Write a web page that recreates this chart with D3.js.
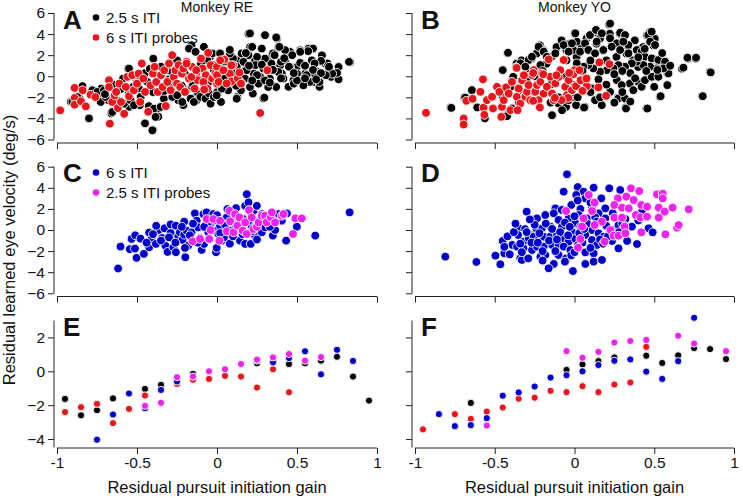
<!DOCTYPE html>
<html><head><meta charset="utf-8">
<script src="https://cdn.jsdelivr.net/npm/d3@7"></script>
<style>body{margin:0;background:#fff}svg{display:block}text{font-family:"Liberation Sans",Arial,Helvetica,sans-serif;fill:#111}</style>
</head><body><svg id="c" width="743" height="498"></svg>
<script>
// ---------- labels / ticks ----------
const xTicks=[-1,-0.5,0,0.5,1];
const xTickLabels=["-1","-0.5","0","0.5","1"];
const yTicksScatter=[-6,-4,-2,0,2,4,6];
const yTicksBins=[-4,-2,0,2];
const panelLetters=["A","B","C","D","E","F"];
const monkeyTitles=["Monkey RE","Monkey YO"];
const legendAB=["2.5 s ITI","6 s ITI probes"];
const legendCD=["6 s ITI","2.5 s ITI probes"];
const xTitle="Residual pursuit initiation gain";
const yTitle="Residual learned eye velocity (deg/s)";

// ---------- Panel A (Monkey RE, 2.5 s ITI + 6 s probes) ----------
const aBlack=[[-0.914,-2.43],[-0.858,-2.11],[-0.841,-0.94],[-0.80,-4.0],[-0.783,-1.48],[-0.754,-1.95],[-0.722,-1.17],[-0.708,-1.95],[-0.68,-2.27],[-0.66,-3.53],[-0.639,-1.17],[-0.624,-2.43],[-0.587,-0.22],[-0.555,0.72],[-0.549,-2.9],[-0.524,-1.0],[-0.503,-0.38],[-0.482,-2.74],[-0.45,-4.47],[-0.426,-2.83],[-0.398,1.67],[-0.398,-5.1],[-0.367,-3.84],[-0.367,-3.05],[-0.305,0.57],[-0.273,-0.38],[-0.242,-2.27],[-0.21,-2.74],[-0.19,-1.32],[-0.159,2.93],[-0.148,-2.11],[-0.127,-2.27],[-0.106,-0.38],[-0.081,2.77],[-0.075,-1.8],[-0.044,1.83],[-0.023,1.04],[0.019,-1.32],[0.023,-2.43],[0.061,-1.0],[0.082,2.14],[0.103,0.88],[0.124,1.51],[0.128,-1.95],[0.176,0.57],[0.197,4.03],[0.207,2.77],[0.224,-1.64],[0.238,1.51],[0.259,-0.69],[0.29,-2.11],[0.301,3.87],[0.311,1.67],[0.328,0.57],[0.374,3.56],[0.384,2.77],[0.395,1.04],[0.405,0.25],[0.426,1.51],[0.447,-1.0],[0.458,2.3],[0.478,-0.38],[0.499,0.88],[0.52,2.46],[0.53,1.2],[0.551,0.25],[0.572,2.61],[0.593,1.51],[0.604,-0.54],[0.625,0.41],[0.641,-1.0],[0.656,1.98],[0.677,1.2],[0.698,0.57],[0.714,-0.06],[0.75,0.1],[0.76,0.88],[0.833,1.35],
[-0.904,-2.44],[-0.873,-1.97],[-0.779,-1.33],[-0.748,-1.49],[-0.727,-2.44],[-0.706,-1.33],[-0.696,-1.96],[-0.654,-3.39],[-0.623,-2.28],[-0.581,-2.6],[-0.55,0.73],[-0.54,-2.28],[-0.519,-2.75],[-0.488,-1.17],[-0.477,-1.96],[-0.436,-0.53],[-0.404,-5.13],[-0.394,-3.07],[-0.384,-3.86],[-0.352,-2.91],[-0.332,-2.12],[-0.30,-1.01],[-0.279,-1.96],[-0.248,-1.8],[-0.217,-2.44],[-0.207,-1.33],[-0.175,2.63],[-0.165,-2.12],[-0.155,-1.01],[-0.144,-2.44],[-0.134,2.32],[-0.123,-1.49],[-0.103,-1.96],[-0.082,2.79],[-0.071,-2.12],[-0.061,1.53],[-0.05,-1.64],[-0.04,-2.6],[-0.03,2.16],[-0.019,-1.96],[0.002,-1.49],
[0.206,4.06],[0.30,3.9],[0.37,3.68],[0.025,-2.44],[0.123,-2.13],[0.296,-2.03],[0.825,1.37],[0.76,-0.29],[0.75,0.32],[0.72,0.25],[0.68,0.1],[0.69,1.21],[0.65,1.46],[0.61,1.21],[0.60,2.63],[0.57,2.38],[0.64,-0.54],[0.61,0.25],[0.58,-0.54],[0.54,-0.86],[0.56,0.1],[0.52,1.27],[0.52,2.32],[0.50,0.25],[0.48,-0.70],[0.47,2.0],[0.457,0.89],[0.425,2.48],[0.415,-0.22],[0.40,1.37],[0.39,2.79],[0.383,0.41],[0.37,-1.02],[0.35,2.16],[0.34,1.21],[0.33,-0.22],[0.32,-1.02],[0.30,1.68],[0.29,0.73],[0.28,2.63],[0.27,-0.06],[0.26,-0.70],[0.25,1.84],[0.24,1.05],[0.23,0.25],[0.22,2.79],[0.206,-1.02],[0.196,2.0],[0.185,0.57],[0.175,-0.22],[0.165,1.37],[0.154,2.16],[0.15,-1.33],[0.123,0.89],[0.113,-0.86],[0.10,1.68],[0.08,2.16],[0.07,-1.33],[0.06,-0.22],[0.04,1.21],[0.03,-1.17],[0.019,2.16],[0.008,0.25],[-0.002,-1.81],
[-0.6,-1.2],[-0.5,-0.6],[-0.45,0.3],[-0.4,-1.5],[-0.35,0.9],[-0.3,-0.3],[-0.25,1.5],[-0.2,0.2],[-0.15,-0.8],[-0.1,1.2],[-0.05,-0.5],[-0.7,-1.7],[-0.65,-0.8],[-0.55,-1.6],[-0.48,-0.1],[-0.42,0.7],[-0.33,-1.4],[-0.28,0.4],[-0.22,-0.9],[-0.12,0.5],[-0.08,-1.2],[-0.02,0.6],[0.05,-0.2],[0.1,0.3],[0.15,-0.6],[0.2,1.0],[0.25,0.1],[0.3,-0.4],[0.35,0.6],[0.4,-0.2],[0.45,0.9],[0.5,-0.4],[0.55,1.0],[0.6,0.6],[0.65,0.3],[0.05,1.4],[0.12,-0.9],[0.22,-0.4],[0.28,1.1],[0.33,-0.6],[0.42,1.7],[0.48,0.3],[0.55,-0.2],[0.62,-0.3],[0.7,0.9],[0.18,2.2],[0.36,2.0],[0.08,2.5]];
const aRed=[[-0.98,-3.24],[-0.89,-1.11],[-0.89,-2.06],[-0.89,-2.70],[-0.85,-2.38],[-0.84,-1.33],[-0.82,-2.86],[-0.79,-1.75],[-0.76,-1.97],[-0.675,-0.38],[-0.675,-1.02],[-0.67,-4.5],[-0.655,-2.44],[-0.64,-1.81],[-0.63,-1.49],[-0.62,-3.02],[-0.61,-0.70],[-0.60,-2.44],[-0.58,-3.56],[-0.57,-1.02],[-0.56,-0.06],[-0.55,-1.90],[-0.53,0.10],[-0.52,-1.33],[-0.50,-0.70],[-0.49,0.25],[-0.48,-2.44],[-0.47,1.21],[-0.46,-0.22],[-0.45,-1.49],[-0.43,-3.37],[-0.32,-2.83],[-0.415,-0.86],[-0.40,0.25],[-0.39,0.89],[-0.38,-0.54],[-0.37,-1.49],[-0.35,0.10],[-0.34,-1.02],[-0.33,0.57],[-0.31,-0.54],[-0.30,1.21],[-0.29,-1.33],[-0.28,2.0],[-0.27,-0.06],[-0.26,0.57],[-0.25,-0.70],[-0.24,1.05],[-0.23,-1.02],[-0.22,0.25],[-0.21,0.73],[-0.20,-1.49],[-0.19,1.37],[-0.175,-0.22],[-0.155,0.89],[-0.14,-1.17],[-0.13,0.25],[-0.12,-0.38],[-0.10,1.68],[-0.09,0.73],[-0.08,-0.86],[-0.07,0.10],[-0.06,-1.17],[-0.055,2.22],[-0.04,1.05],[-0.03,-0.22],[-0.01,0.25],[0.0,-0.70],[0.0,0.89],[0.0,0.1],[0.01,-0.54],[0.045,1.59],[0.056,0.57],[0.08,0.25],[0.09,-0.48],[0.10,1.05],[0.13,-0.22],[0.14,0.35],[0.15,-0.70],[0.315,0.57],[0.27,-3.49],[-0.19,1.2],[-0.16,-0.06],[-0.13,0.57],[-0.085,-0.54],[-0.08,-1.26],[0.02,1.51],[0.04,0.57],[0.06,-0.69],[0.09,1.04]];

// ---------- Panel B (Monkey YO) ----------
const bBlack=[[-0.777,-2.96],[-0.691,-2.02],[-0.645,-1.33],[-0.61,-2.96],[-0.562,-4.0],[-0.451,-1.17],[-0.426,-3.69],[-0.42,2.2],[-0.384,-0.06],[-0.363,1.2],[-0.332,1.51],[-0.30,0.72],[-0.269,1.67],[-0.238,2.14],[-0.217,2.93],[-0.196,2.46],[-0.175,1.2],[-0.144,1.83],[-0.138,-3.69],[-0.113,2.77],[-0.081,3.4],[-0.05,2.46],[-0.029,3.09],[0.002,4.03],[0.013,1.83],[0.044,2.77],[0.065,-2.9],[0.075,3.56],[0.096,3.87],[0.127,4.19],[0.138,3.09],[0.159,3.56],[0.18,2.46],[0.217,4.91],[0.221,4.03],[0.242,3.09],[0.263,1.83],[0.273,-2.02],[0.284,4.03],[0.294,2.77],[0.315,3.87],[0.322,-2.96],[0.326,2.14],[0.336,2.93],[0.347,-0.69],[0.367,1.51],[0.378,3.4],[0.399,0.88],[0.409,2.14],[0.43,2.77],[0.451,-3.06],[0.455,3.87],[0.472,4.19],[0.482,0.88],[0.493,2.93],[0.503,3.56],[0.514,0.25],[0.535,-1.95],[0.555,1.42],[0.583,0.25],[0.583,-0.85],[0.674,0.72],[0.712,1.67],[0.76,1.67],[0.80,-1.89],[0.848,0.41],
[0.223,5.0],[0.003,4.07],[0.097,3.91],[0.135,4.39],[0.171,4.07],[0.286,4.13],[0.317,3.91],[0.338,2.96],[0.014,3.28],[0.066,3.12],[0.139,3.28],[0.223,3.6],[0.265,3.12],[0.306,3.28],[-0.007,2.49],[0.035,2.33],[0.087,2.49],[0.129,2.17],[0.181,2.49],[0.233,2.8],[0.286,2.49],[0.338,2.17],[0.39,2.49],[0.421,2.33],[0.463,3.91],[0.484,4.23],[0.474,3.28],[0.505,2.96],[0.442,1.85],[0.484,1.69],[0.526,1.54],[0.568,1.38],[0.589,0.27],[0.557,0.74],[0.515,0.74],[0.474,0.9],[0.432,1.06],[0.39,1.38],[0.359,1.22],[0.317,0.9],[0.275,1.06],[0.244,0.74],[0.202,0.58],[0.16,0.43],[0.118,0.74],[0.087,1.06],[0.056,0.9],[0.014,1.22],[-0.007,-0.84],[0.077,-0.21],[0.108,-1.16],[0.129,-2.27],[0.171,-2.74],[0.223,-1.48],[0.265,-0.37],[0.296,-0.84],[0.275,-2.11],[0.317,-2.11],[0.323,-3.06],[0.369,-1.32],[0.40,-0.53],[0.421,-1.0],[0.442,-0.37],[0.484,-0.05],[0.526,-0.05],[0.457,-3.06],[0.54,-1.89],[0.582,-0.84],[0.683,0.81],[0.708,1.76],[0.762,1.76],[0.804,-1.89],[0.854,0.36],[0.01,-2.74],[0.06,-2.97],
[-0.772,-3.0],[-0.685,-2.02],[-0.643,-1.32],[-0.45,0.58],[-0.417,2.23],[-0.423,-3.79],[-0.34,1.22],[-0.35,-1.32],[-0.288,1.54],[-0.225,2.8],[-0.193,2.33],[-0.141,-3.7],[-0.214,1.06],[-0.173,1.85],[-0.12,2.17],[-0.068,2.96],[-0.037,2.33],[0.005,4.07],[-0.016,3.12],[-0.053,-2.9],[-0.037,-2.27],[-0.1,-2.59],[-0.267,1.85],[-0.308,0.9],[-0.392,-3.06],[-0.078,-3.22],[-0.016,-1.95],
[-0.45,-2.0],[-0.4,-1.0],[-0.35,-2.5],[-0.3,-0.5],[-0.25,-1.5],[-0.2,0.5],[-0.15,-0.8],[-0.1,-2.0],[-0.05,0.0],[0.0,-1.0],[0.05,0.5],[0.1,-1.5],[0.15,-0.3],[0.2,-0.8],[0.25,0.2],[0.3,-1.5],[0.35,0.3],[0.4,1.8],[0.45,0.5],[0.5,-1.0],[0.55,2.2],[-0.25,0.0],[-0.05,1.5],[0.1,1.5],[0.2,1.5],[0.3,0.5],[0.38,-0.2],[0.44,2.6],[0.52,0.6],[0.6,1.0],[-0.15,-2.5],[0.02,-2.0],[0.16,-2.0],[0.25,-2.5],[0.35,-2.4]];
const bRed=[[-0.931,-3.47],[-0.695,-4.01],[-0.695,-4.58],[-0.678,-2.33],[-0.639,-2.14],[-0.59,-1.48],[-0.574,-0.3],[-0.57,-2.97],[-0.565,-3.66],[-0.549,-2.27],[-0.517,-1.95],[-0.511,-3.06],[-0.486,-1.0],[-0.471,-1.48],[-0.459,-3.85],[-0.455,-2.9],[-0.444,-2.27],[-0.428,-1.06],[-0.413,-1.64],[-0.402,-3.22],[-0.392,-0.53],[-0.367,0.84],[-0.361,-1.95],[-0.35,-1.16],[-0.34,-2.59],[-0.329,-0.37],[-0.319,0.11],[-0.308,-1.95],[-0.298,-1.48],[-0.288,-0.84],[-0.277,-2.27],[-0.267,0.11],[-0.256,0.58],[-0.246,-1.48],[-0.235,-0.84],[-0.225,-2.27],[-0.214,-0.53],[-0.204,0.27],[-0.193,-1.64],[-0.173,-1.0],[-0.162,1.6],[-0.152,-0.05],[-0.141,-1.64],[-0.131,-2.27],[-0.12,-0.68],[-0.099,-0.05],[-0.089,0.58],[-0.068,1.54],[-0.058,-1.0],[-0.047,-1.79],[-0.037,-0.37],[-0.016,-1.32],[0.001,0.58],
[-0.007,0.2],[0.01,-0.94],[0.031,0.58],[0.045,-0.43],[0.066,-0.21],[0.056,-1.32],[0.077,-0.94],[0.156,1.31],[0.219,1.15],[0.15,-1.06],[0.198,-1.86],
[-0.363,0.79],[-0.317,0.09],[-0.259,0.31],[-0.196,0.19],[-0.113,0.09],[-0.033,0.31],[0.038,-0.38],[0.075,-0.22],[0.05,-1.39],[-0.04,-2.05],[-0.081,-2.27],[-0.123,-2.05],[-0.217,-2.96],[-0.259,-2.33],[-0.357,-3.22]];

// ---------- Panel C (Monkey RE, 6 s ITI + 2.5 s probes) ----------
const cBlue=[[-0.618,-3.65],[-0.603,-1.57],[-0.545,-1.82],[-0.534,-0.85],[-0.513,-1.76],[-0.511,-0.50],[-0.503,-2.64],[-0.478,-0.82],[-0.457,-2.26],[-0.424,-1.64],[-0.424,-0.25],[-0.409,-0.85],[-0.382,-1.32],[-0.365,0.0],[-0.344,-0.76],[-0.328,0.16],[-0.323,-1.48],[-0.309,-2.08],[-0.29,-0.28],[-0.29,0.53],[-0.273,-1.64],[-0.257,-2.11],[-0.257,0.41],[-0.242,-0.63],[-0.232,-0.22],[-0.215,-0.94],[-0.205,0.79],[-0.205,-0.44],[-0.198,-2.58],[-0.19,-0.06],[-0.18,-1.48],[-0.159,-0.22],[-0.138,1.57],[-0.127,0.88],[-0.117,0.25],[-0.106,-0.76],[-0.096,-1.89],[-0.085,1.51],[-0.081,-1.32],[-0.065,1.67],[-0.054,-0.22],[-0.04,0.63],[-0.023,1.51],[-0.012,-0.06],[-0.006,-2.11],[-0.002,-1.70],[0.009,-0.38],[0.019,0.41],[0.03,-1.01],[0.044,-0.69],[0.061,1.19],[0.065,1.98],[0.082,-0.06],[0.103,0.72],[0.119,2.07],[0.134,1.19],[0.144,-1.01],[0.155,0.25],[0.165,1.04],[0.176,-1.32],[0.176,2.29],[0.186,3.39],[0.197,2.61],[0.211,-1.32],[0.217,0.25],[0.228,1.82],[0.238,-0.53],[0.249,2.29],[0.265,0.88],[0.28,-0.22],[0.301,0.25],[0.311,1.04],[0.322,0.72],[0.349,-0.53],[0.363,0.0],[0.384,1.51],[0.405,0.88],[0.432,-1.01],[0.437,1.57],[0.499,0.31],[0.614,-0.53],[0.829,1.67],
[-0.4,-0.4],[-0.35,-1.0],[-0.3,-0.7],[-0.26,-1.2],[-0.22,0.3],[-0.17,-0.5],[-0.15,0.6],[-0.12,-1.2],[-0.08,0.3],[-0.05,-0.9],[-0.02,0.9],[0.02,-0.3],[0.05,0.5],[0.08,-1.3],[0.12,0.3],[0.16,-0.4],[0.2,0.9],[0.25,-0.9],[0.28,1.5],[0.33,0.3],[-0.44,-1.2],[-0.38,0.4],[-0.2,-1.7],[0.0,1.4],[0.1,-0.6],[0.22,-0.1]];
const cMagenta=[[-0.152,-1.07],[-0.106,-0.85],[-0.065,1.04],[-0.048,-0.85],[-0.023,1.04],[-0.04,0.0],[0.019,0.88],[0.015,-1.01],[0.061,-0.13],[0.078,1.82],[0.082,0.82],[0.103,-0.22],[0.113,1.51],[0.128,0.41],[0.14,1.19],[0.161,-0.06],[0.176,0.72],[0.186,-0.38],[0.2,1.89],[0.217,1.19],[0.228,0.09],[0.249,0.31],[0.26,0.72],[0.28,1.35],[0.301,1.35],[0.311,0.72],[0.336,1.19],[0.343,1.67],[0.363,0.72],[0.405,1.35],[0.416,1.51],[0.475,-0.38],[0.49,1.1],[0.53,1.1]];

// ---------- Panel D (Monkey YO, 6 s ITI + 2.5 s probes) ----------
const dBlue=[[-0.047,5.28],[-0.068,3.63],[0.02,4.07],[0.057,3.63],[0.12,4.01],[0.218,3.95],[0.287,3.79],[0.011,3.32],[0.068,3.0],[0.168,3.0],[-0.30,1.74],[-0.12,2.05],[-0.02,2.37],[0.037,1.99],[0.11,2.21],[0.193,2.05],[0.423,1.74],[-0.235,1.1],[-0.183,1.42],[-0.13,1.58],[-0.10,0.95],[-0.037,1.1],[0.005,0.63],[0.026,1.42],[0.078,1.1],[0.151,1.58],[0.193,1.1],[0.36,0.32],[0.319,1.04],[-0.35,0.16],[-0.31,0.09],[-0.277,-0.47],[-0.24,0.16],[-0.204,0.16],[-0.151,0.32],[-0.078,0.32],[-0.016,-0.16],[0.037,0.32],[0.11,0.0],[0.235,0.0],[0.276,0.47],[0.465,0.16],[0.49,-0.22],[-0.45,-1.04],[-0.39,-1.42],[-0.354,-0.47],[-0.32,-1.1],[-0.287,-0.79],[-0.256,-0.63],[-0.225,-0.95],[-0.193,-0.63],[-0.151,-0.63],[-0.11,-0.47],[-0.068,-0.79],[-0.037,-1.1],[0.005,-0.85],[0.068,-0.47],[0.11,-0.95],[0.151,-0.32],[0.183,-0.63],[0.235,-1.04],[0.33,-1.04],[0.392,-1.33],[-0.496,-2.43],[-0.44,-2.21],[-0.406,-2.31],[-0.36,-1.58],[-0.32,-1.74],[-0.266,-1.9],[-0.235,-1.58],[-0.193,-1.58],[-0.14,-1.42],[-0.10,-1.42],[-0.068,-1.58],[-0.026,-1.9],[0.022,-1.42],[0.068,-2.12],[0.12,-2.21],[0.141,-1.42],[0.276,-1.74],[-0.81,-2.53],[-0.615,-3.03],[-0.465,-3.25],[-0.34,-2.69],[-0.33,-2.84],[-0.29,-2.69],[-0.214,-2.53],[-0.183,-2.37],[-0.13,-3.22],[-0.10,-2.37],[-0.053,-2.69],[0.068,-3.22],[0.12,-3.0],[0.172,-2.84],[-0.162,-3.63],[-0.01,-3.89],
[-0.42,-0.6],[-0.38,-0.2],[-0.34,-1.3],[-0.3,-0.2],[-0.27,-1.2],[-0.25,0.5],[-0.22,-0.3],[-0.2,-2.0],[-0.18,0.6],[-0.16,-1.0],[-0.14,0.1],[-0.12,-2.0],[-0.09,-0.2],[-0.06,0.7],[-0.04,-0.5],[-0.02,-2.4],[0.0,1.3],[0.03,-0.3],[0.05,-1.2],[0.08,0.6],[0.1,-1.7],[0.13,1.2],[0.16,-0.9],[0.2,0.4],[0.25,-0.5],[0.3,0.6],[-0.37,0.6],[-0.44,-1.6],[-0.28,1.0],[-0.08,1.9],[0.02,2.8],[0.1,2.6],[-0.2,-2.9],[-0.06,-3.0],[0.0,-2.1],[0.18,-1.3],[0.24,1.6],[0.4,0.9],[-0.33,-2.1],[-0.23,-1.2],[-0.11,-0.9],[-0.03,0.3],[0.06,0.1],[0.14,0.8],[0.21,-0.6],[0.28,-0.2]];
const dMagenta=[[0.354,3.95],[0.406,3.69],[0.517,3.38],[0.553,3.44],[0.089,3.32],[0.126,2.59],[0.272,3.0],[0.325,3.16],[0.371,2.84],[0.553,3.0],[-0.053,1.8],[0.11,1.8],[0.25,2.37],[0.298,2.12],[0.34,2.05],[0.419,2.37],[0.455,2.21],[0.528,2.12],[0.615,2.12],[0.716,1.96],[0.565,1.74],[0.057,1.1],[0.172,0.79],[0.25,1.17],[0.298,1.17],[0.385,1.42],[0.413,1.2],[0.455,1.26],[0.528,1.17],[0.047,0.32],[0.126,0.47],[0.225,0.0],[0.314,0.32],[0.419,-0.22],[0.57,-0.41],[0.643,0.22],[0.653,0.47],[0.037,-0.85],[0.189,-1.1],[0.245,-0.54],[0.276,-0.54],[0.319,-0.32],[0.022,-1.67]];

// ---------- Panel E (Monkey RE binned means) ----------
const eBlack=[[-0.95,-1.63],[-0.85,-2.6],[-0.75,-2.3],[-0.65,-1.6],[-0.45,-1.04],[-0.35,-0.8],[-0.25,-0.6],[-0.15,-0.15],[0.25,0.47],[0.35,0.55],[0.45,0.43],[0.55,0.47],[0.65,0.63],[0.75,0.86],[0.85,-0.31],[0.95,-1.73]];
const eRed=[[-0.95,-2.41],[-0.85,-2.12],[-0.75,-1.92],[-0.65,-3.06],[-0.55,-2.22],[-0.45,-1.43],[-0.25,-0.75],[-0.15,-0.5],[-0.05,-0.45],[0.05,-0.27],[0.15,-0.31],[0.25,-0.96],[0.35,0.12],[0.45,-1.24]];
const eBlue=[[-0.75,-4.04],[-0.65,-2.55],[-0.55,-1.31],[-0.45,-2.18],[-0.35,-1.1],[-0.25,-0.6],[0.25,0.63],[0.35,0.53],[0.45,0.78],[0.55,1.18],[0.65,-0.18],[0.75,1.27],[0.85,0.61]];
const eMagenta=[[-0.45,-2.04],[-0.35,-1.86],[-0.25,-0.35],[-0.15,-0.31],[-0.05,0.0],[0.05,0.12],[0.15,0.43],[0.25,0.69],[0.35,0.82],[0.45,1.02],[0.55,0.63],[0.65,0.84]];

// ---------- Panel F (Monkey YO binned means) ----------
const fBlack=[[-0.65,-1.87],[-0.05,0.08],[0.05,0.41],[0.15,0.6],[0.25,0.82],[0.45,0.92],[0.55,0.49],[0.65,0.94],[0.75,1.37],[0.85,1.31],[0.95,0.72]];
const fRed=[[-0.95,-3.43],[-0.75,-2.53],[-0.65,-2.81],[-0.55,-2.38],[-0.45,-2.14],[-0.35,-1.62],[-0.25,-1.56],[-0.15,-1.15],[-0.05,-1.23],[0.05,-0.88],[0.15,-1.23],[0.25,-0.78],[0.35,-0.66],[0.45,1.44]];
const fBlue=[[-0.85,-2.53],[-0.75,-3.24],[-0.65,-3.18],[-0.55,-2.77],[-0.45,-1.44],[-0.35,-1.25],[-0.25,-0.9],[-0.15,-0.37],[-0.05,-0.23],[0.05,0.0],[0.15,0.37],[0.25,0.62],[0.35,0.7],[0.45,-0.02],[0.55,-0.45],[0.65,0.6],[0.75,3.16]];
const fMagenta=[[-0.55,-3.2],[-0.05,1.19],[0.05,0.8],[0.15,1.15],[0.25,1.7],[0.35,1.79],[0.45,1.85],[0.65,2.1],[0.75,1.64],[0.95,1.19]];

// ---------- styling / layout ----------
const COL={black:"#000000",red:"#e8151b",blue:"#0000cc",magenta:"#ee22ee"};
const cols=[{x0:57,x1:377,ax:54},{x0:415,x1:734,ax:412}];
const rows=[
  {dom:[-6,6],r:[139.5,13],xa:143,ticks:yTicksScatter,rad:4.4},
  {dom:[-6,6],r:[293.3,166.7],xa:296.5,ticks:yTicksScatter,rad:4.4},
  {dom:[-4.5,3],r:[447.5,320.5],xa:448,ticks:yTicksBins,rad:3.6}
];
const panels=[
  {c:0,r:0,series:[[aBlack,COL.black],[aRed,COL.red]]},
  {c:1,r:0,series:[[bBlack,COL.black],[bRed,COL.red]]},
  {c:0,r:1,series:[[cBlue,COL.blue],[cMagenta,COL.magenta]]},
  {c:1,r:1,series:[[dBlue,COL.blue],[dMagenta,COL.magenta]]},
  {c:0,r:2,series:[[eBlack,COL.black],[eRed,COL.red],[eBlue,COL.blue],[eMagenta,COL.magenta]]},
  {c:1,r:2,series:[[fBlack,COL.black],[fRed,COL.red],[fBlue,COL.blue],[fMagenta,COL.magenta]]}
];
const svg=d3.select("#c");
const AX="#222";
panels.forEach((p,i)=>{
  const C=cols[p.c],R=rows[p.r];
  const x=d3.scaleLinear().domain([-1,1]).range([C.x0,C.x1]);
  const y=d3.scaleLinear().domain(R.dom).range(R.r);
  const g=svg.append("g");
  const ya=g.append("g").attr("transform",`translate(${C.ax},0)`)
    .call(d3.axisLeft(y).tickValues(R.ticks).tickSize(6).tickFormat(p.c===0?d3.format("d"):""));
  ya.select(".domain").attr("d",`M0,${R.r[0]}V${R.r[1]}`).attr("stroke",AX);
  ya.selectAll(".tick line").attr("stroke",AX);
  ya.selectAll(".tick text").attr("font-size",15.5).attr("x",-9).style("fill","#111").attr("font-family","Liberation Sans, Arial, sans-serif");
  const xa=g.append("g").attr("transform",`translate(0,${R.xa})`)
    .call(d3.axisBottom(x).tickValues(xTicks).tickSize(6).tickFormat(p.r===2?((d,k)=>xTickLabels[k]):""));
  xa.select(".domain").attr("d",`M${C.x0},0H${C.x1}`).attr("stroke",AX);
  xa.selectAll(".tick line").attr("stroke",AX);
  xa.selectAll(".tick text").attr("font-size",15.5).attr("y",9).style("fill","#111").attr("font-family","Liberation Sans, Arial, sans-serif");
  p.series.forEach(([data,color])=>{
    g.append("g").selectAll("circle").data(data).join("circle")
      .attr("cx",d=>x(d[0])).attr("cy",d=>y(d[1])).attr("r",R.rad)
      .attr("fill",color).attr("stroke","#fff").attr("stroke-width",0.9);
  });
  g.append("text").attr("x",C.ax+9).attr("y",R.r[1]+15.5).text(panelLetters[i])
    .attr("font-size",26).attr("font-weight","bold");
});
monkeyTitles.forEach((t,k)=>{
  svg.append("text").attr("x",(cols[k].x0+cols[k].x1)/2).attr("y",12).attr("text-anchor","middle")
    .attr("font-size",14).text(t);
});
function legend(items,colors,x,y0){
  items.forEach((t,k)=>{
    svg.append("circle").attr("cx",x).attr("cy",y0+k*20).attr("r",3.3).attr("fill",colors[k]);
    svg.append("text").attr("x",x+10).attr("y",y0+k*20+5.5).attr("font-size",15).text(t);
  });
}
legend(legendAB,[COL.black,COL.red],96,17.5);
legend(legendCD,[COL.blue,COL.magenta],96,172.5);
cols.forEach(C=>{
  svg.append("text").attr("x",(C.x0+C.x1)/2).attr("y",493).attr("text-anchor","middle").attr("font-size",16.5).text(xTitle);
});
svg.append("text").attr("transform","translate(15,250) rotate(-90)").attr("text-anchor","middle").attr("font-size",16.5).text(yTitle);
</script></body></html>
